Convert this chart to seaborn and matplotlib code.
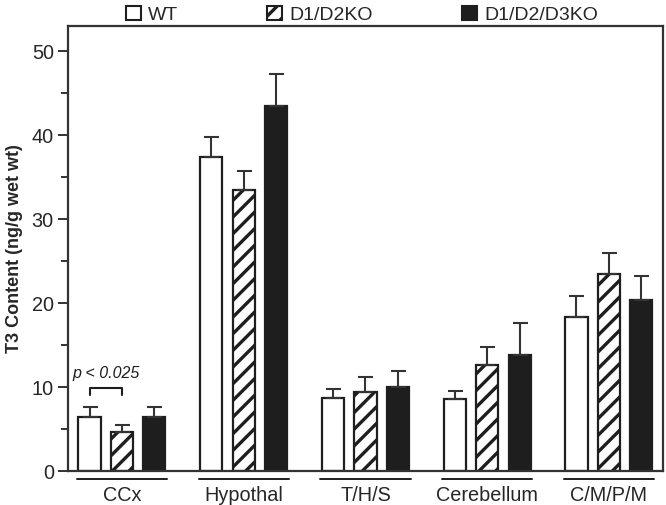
import matplotlib
matplotlib.use('Agg')
import matplotlib.pyplot as plt
import numpy as np
import pandas as pd
import seaborn as sns
from matplotlib.patches import Patch
from matplotlib.ticker import MultipleLocator

sns.set_style('ticks')
plt.rcParams['font.family'] = ['Liberation Sans', 'DejaVu Sans']
plt.rcParams['hatch.linewidth'] = 2.4
plt.rcParams['hatch.color'] = '#1e1e1e'

regions = ['CCx', 'Hypothal', 'T/H/S', 'Cerebellum', 'C/M/P/M']
genotypes = ['WT', 'D1/D2KO', 'D1/D2/D3KO']
wt = [6.4, 37.4, 8.7, 8.6, 18.3]
wt_err = [1.2, 2.4, 1.1, 0.9, 2.5]
d12 = [4.6, 33.5, 9.4, 12.6, 23.5]
d12_err = [0.9, 2.2, 1.8, 2.2, 2.5]
d123 = [6.4, 43.5, 10.0, 13.8, 20.4]
d123_err = [1.2, 3.8, 1.9, 3.8, 2.8]

df = pd.DataFrame({
    'region': regions * 3,
    'genotype': np.repeat(genotypes, len(regions)),
    'value': wt + d12 + d123,
    'err': wt_err + d12_err + d123_err,
})

ink = '#1e1e1e'
fig = plt.figure(figsize=(6.66, 5.05), dpi=100)
ax = fig.add_axes([0.1021, 0.0673, 0.8934, 0.8812])

sns.barplot(data=df, x='region', y='value', hue='genotype', order=regions,
            hue_order=genotypes, palette=['white', 'white', ink],
            errorbar=None, gap=0.32, width=0.8, edgecolor=ink, linewidth=1.6,
            legend=False, ax=ax)

# hatch the middle group, then add one-sided error bars
for i, g in enumerate(genotypes):
    bars = ax.containers[i]
    errs = df.loc[df.genotype == g, 'err'].values
    xs, hs = [], []
    for p in bars:
        if g == 'D1/D2KO':
            p.set_hatch('//')
        xs.append(p.get_x() + p.get_width() / 2)
        hs.append(p.get_height())
    ax.errorbar(xs, hs, yerr=[np.zeros(len(errs)), errs], fmt='none',
                ecolor='#333333', elinewidth=1.5, capsize=5.4, capthick=1.5,
                zorder=1)

ax.set_ylim(0, 53)
ax.set_xlim(-0.4435, 4.444)
ax.yaxis.set_major_locator(MultipleLocator(10))
ax.yaxis.set_minor_locator(MultipleLocator(5))
ax.tick_params(axis='y', which='major', length=7.2, width=1.4, labelsize=14.3,
               color='#333333', pad=3)
ax.tick_params(axis='y', which='minor', length=5, width=1.4, color='#333333')
ax.tick_params(axis='x', length=0, labelsize=14.3, pad=10.5)
for s in ax.spines.values():
    s.set_linewidth(1.6)
    s.set_color('#333333')
ax.set_xlabel('')
ax.set_ylabel('T3 Content (ng/g wet wt)', fontsize=13, fontweight='bold', labelpad=6)

# underline beneath each region name
for k in range(len(regions)):
    ax.plot([k - 0.37, k + 0.37], [-0.018, -0.018], color=ink, lw=1.4,
            transform=ax.get_xaxis_transform(), clip_on=False)

# significance bracket for CCx
x0 = ax.containers[0][0].get_x() + ax.containers[0][0].get_width() / 2
x1 = ax.containers[1][0].get_x() + ax.containers[1][0].get_width() / 2
ax.plot([x0, x0, x1, x1], [9.05, 9.9, 9.9, 9.05], color=ink, lw=1.5)
ax.text((x0 + x1) / 2, 11.1, 'p < 0.025', style='italic', fontsize=11.5,
        ha='center', va='baseline', color=ink)

handles = [Patch(facecolor='white', edgecolor=ink, lw=1.5),
           Patch(facecolor='white', edgecolor=ink, lw=1.5, hatch='//'),
           Patch(facecolor=ink, edgecolor=ink, lw=1.5)]
fig.legend(handles, genotypes, loc='center', bbox_to_anchor=(0.5435, 0.971),
           ncol=3, frameon=False, fontsize=14, handlelength=0.77, handleheight=0.77,
           handletextpad=0.36, columnspacing=4.6, borderpad=0)

fig.savefig('out.png', dpi=100)
